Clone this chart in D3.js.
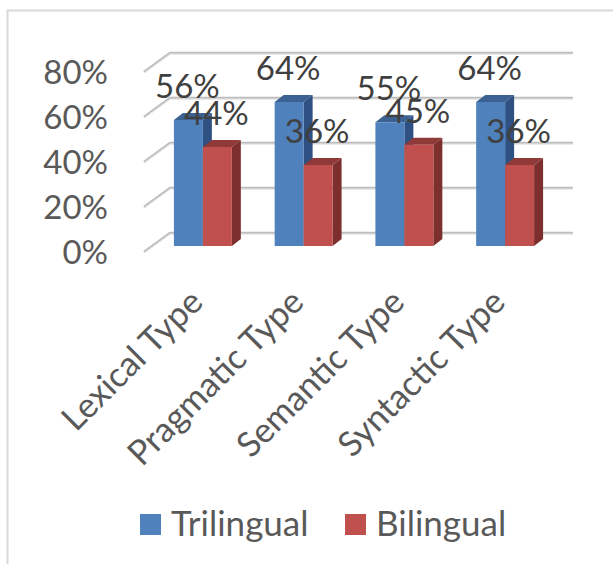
<!DOCTYPE html>
<html>
<head>
<meta charset="utf-8">
<script src="https://cdn.jsdelivr.net/npm/d3@7"></script>
<style>
	html, body { margin: 0; padding: 0; background: #fff; }
	svg { display: block; }
	text { font-family: Lato, "Open Sans", sans-serif; }
</style>
</head>
<body>
<svg id="chart" width="613" height="564"></svg>
<script>
const categories = ['Lexical Type', 'Pragmatic Type', 'Semantic Type', 'Syntactic Type']
const trilingual = [0.56, 0.64, 0.55, 0.64]
const bilingual = [0.44, 0.36, 0.45, 0.36]
const seriesNames = ['Trilingual', 'Bilingual']
const yTicks = [0, 0.2, 0.4, 0.6, 0.8]

const colors = {
	Trilingual: { front: '#4f81bd', top: '#3b6293', side: '#2f5083' },
	Bilingual: { front: '#c0504d', top: '#8f3a38', side: '#7d2f2d' }
}
const depthX = 9
const depthY = 7
const fontSize = 33
const categorySize = 34.5
const legendSize = 35

const svg = d3.select('#chart')

// chart frame, only the top and left edges show
svg.append('path')
	.attr('d', 'M613,10.5H7.5V564')
	.attr('fill', 'none')
	.attr('stroke', '#d9d9d9')
	.attr('stroke-width', 2)

const y = d3.scaleLinear()
	.domain([0, 0.8])
	.range([246, 66])

const x = d3.scaleBand()
	.domain(categories)
	.range([152.5, 555.5])
	.paddingInner(0.425)
	.paddingOuter(0.2125)

const xBar = d3.scaleBand()
	.domain(seriesNames)
	.range([0, x.bandwidth()])

const wallX0 = 170
const wallX1 = 573
const wallDy = -13
const floorX0 = 144
const floorDy = 6

// back wall lines and the left side diagonals
const grid = svg.append('g').selectAll('g')
	.data(yTicks)
	.enter()
	.append('g')
	.attr('fill', 'none')
	.attr('stroke-linejoin', 'round')

const gridPath = d => `M${floorX0},${y(d) + floorDy}L${wallX0},${y(d) + wallDy}H${wallX1}`

grid.append('path')
	.attr('d', gridPath)
	.attr('stroke', '#bdbdbd')
	.attr('stroke-width', 2.5)

grid.append('path')
	.attr('d', gridPath)
	.attr('stroke', '#e6e6e6')
	.attr('stroke-width', 1)
	.attr('transform', 'translate(0,1)')

const rows = categories.map((c, i) => ({
	category: c,
	values: [
		{ name: 'Trilingual', value: trilingual[i] },
		{ name: 'Bilingual', value: bilingual[i] }
	]
}))

const group = svg.append('g').selectAll('g')
	.data(rows)
	.enter()
	.append('g')
	.attr('transform', d => `translate(${x(d.category)},0)`)

const bar = group.selectAll('g')
	.data(d => d.values)
	.enter()
	.append('g')

const w = xBar.bandwidth()

bar.append('path')
	.attr('fill', d => colors[d.name].side)
	.attr('d', d => {
		const x1 = xBar(d.name) + w
		return `M${x1},${y(d.value)}l${depthX},${-depthY}V${y(0) - depthY}l${-depthX},${depthY}Z`
	})

bar.append('path')
	.attr('fill', d => colors[d.name].top)
	.attr('d', d => {
		const x0 = xBar(d.name)
		return `M${x0},${y(d.value)}l${depthX},${-depthY}h${w}l${-depthX},${depthY}Z`
	})

bar.append('rect')
	.attr('x', d => xBar(d.name))
	.attr('y', d => y(d.value))
	.attr('width', w)
	.attr('height', d => y(0) - y(d.value))
	.attr('fill', d => colors[d.name].front)

// value labels sit on top of everything
const labels = svg.append('g').selectAll('g')
	.data(rows)
	.enter()
	.append('g')
	.attr('transform', d => `translate(${x(d.category)},0)`)

labels.selectAll('text')
	.data(d => d.values)
	.enter()
	.append('text')
	.attr('x', d => xBar(d.name) + w / 2 - 1)
	.attr('y', d => y(d.value) - 22)
	.attr('text-anchor', 'middle')
	.attr('font-size', fontSize)
	.attr('fill', '#404040')
	.text(d => d3.format('.0%')(d.value))

const yAxis = d3.axisLeft(y)
	.tickValues(yTicks)
	.tickFormat(d3.format('.0%'))
	.tickSize(0)
	.tickPadding(0)

svg.append('g')
	.attr('transform', `translate(108,${floorDy + 1})`)
	.call(yAxis)
	.call(g => g.select('.domain').remove())
	.selectAll('text')
	.attr('font-size', fontSize)
	.attr('fill', '#595959')

const xAxis = d3.axisBottom(x)
	.tickSize(0)
	.tickPadding(0)

svg.append('g')
	.attr('transform', 'translate(0,246)')
	.call(xAxis)
	.call(g => g.select('.domain').remove())
	.selectAll('text')
	.attr('font-size', categorySize)
	.attr('fill', '#595959')
	.attr('text-anchor', 'end')
	.attr('dy', 0)
	.attr('y', 0)
	.attr('transform', 'translate(2,58) rotate(-45)')

const legendX = d3.scalePoint()
	.domain(seriesNames)
	.range([140, 345])

const legend = svg.append('g').selectAll('g')
	.data(seriesNames)
	.enter()
	.append('g')
	.attr('transform', d => `translate(${legendX(d)},514)`)

legend.append('rect')
	.attr('width', 21)
	.attr('height', 21)
	.attr('fill', d => colors[d].front)

legend.append('text')
	.attr('x', 31)
	.attr('y', 22)
	.attr('font-size', legendSize)
	.attr('fill', '#595959')
	.text(d => d)
</script>
</body>
</html>
